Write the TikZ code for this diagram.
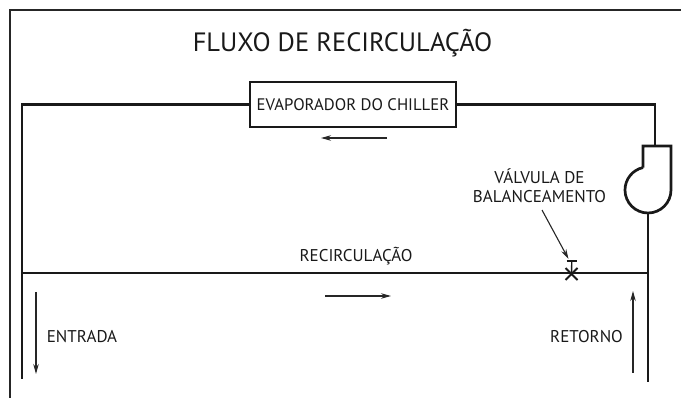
\documentclass[tikz,border=0pt]{standalone}
\usepackage{fontspec}
\setmainfont{PT Sans}
\usetikzlibrary{arrows.meta}
\begin{document}
\begin{tikzpicture}[x=1pt,y=-1pt,
  pipe/.style={line width=2.7pt, line join=miter, draw=black!90},
  frame/.style={line width=2.2pt, draw=black!85},
  flow/.style={line width=1.1pt, draw=black!85, -{Stealth[length=10pt,width=5.5pt]}},
  lbl/.style={font=\fontsize{17}{20}\selectfont, text=black!90, inner sep=0pt},
  titlelbl/.style={font=\fontsize{26.5}{30}\selectfont, text=black!90, inner sep=0pt},
  evapbox/.style={draw=black!90, line width=2.4pt, minimum width=206pt, minimum height=45pt, inner sep=0pt, font=\fontsize{16.7}{20}\selectfont, text=black!90},
]
\useasboundingbox (0,0) rectangle (681,398);
% frame (top and left edges only)
\coordinate (fb) at (10,402);
\coordinate (ftl) at (10,10);
\coordinate (ftr) at (685,10);
\draw[frame] (fb) -- (ftl) -- (ftr);

% title
\node[titlelbl, anchor=base] (title) at (342.5,52) {FLUXO DE RECIRCULAÇÃO};

% evaporator
\node[evapbox] (evap) at (353,104.5) {EVAPORADOR DO CHILLER};

% pipe coordinates
\coordinate (tl) at (22,104.5);
\coordinate (lb) at (22,379);
\coordinate (tr) at (655,104.5);
\coordinate (pin) at (655,146);
\coordinate (ptl) at (643,146);
\coordinate (ptr) at (671,146);
\coordinate (pr) at (671,190);
\coordinate (pl) at (643,167.6);
\coordinate (pout) at (648,213);
\coordinate (rb) at (648,382);
\coordinate (rl) at (22,273);
\coordinate (rr) at (648,273);

\draw[pipe] (evap.west) -- (tl) -- (lb);
\draw[pipe] (evap.east) -- (tr) -- (pin);
% pump
\draw[pipe] (pl) -- (ptl) -- (ptr) -- (pr) arc[start angle=0, end angle=257.4, radius=23];
\draw[pipe] (pout) -- (rb);
% recirculation line
\draw[pipe] (rl) -- (rr);

% balancing valve
\coordinate (vt1) at (566.5,261);
\coordinate (vt2) at (577,261);
\coordinate (vc) at (571.5,274);
\draw[line width=1.6pt, draw=black!90] (vt1) -- (vt2);
\draw[line width=1.4pt, draw=black!90] (571.8,261) -- (vc);
\draw[line width=1.8pt, draw=black!90] (565.5,268) -- (577.5,280) (565.5,280) -- (577.5,268);

% labels
\node[lbl, align=center] (valvelbl) at (539.5,185.5) {VÁLVULA DE\\[-1.5pt]BALANCEAMENTO};
\node[lbl] (recirc) at (356,256) {RECIRCULAÇÃO};
\node[lbl] (entrada) at (82,337) {ENTRADA};
\node[lbl] (retorno) at (586.5,337) {RETORNO};

% flow arrows
\coordinate (a1s) at (387,138); \coordinate (a1e) at (321,138);
\coordinate (a2s) at (325,296); \coordinate (a2e) at (391,296);
\coordinate (a3s) at (36,292);  \coordinate (a3e) at (36,374);
\coordinate (a4s) at (633,373); \coordinate (a4e) at (633,291);
\coordinate (a5s) at (542,210); \coordinate (a5e) at (568.5,259);
\draw[flow] (a1s) -- (a1e);
\draw[flow] (a2s) -- (a2e);
\draw[flow] (a3s) -- (a3e);
\draw[flow] (a4s) -- (a4e);
\draw[flow] (a5s) -- (a5e);
\end{tikzpicture}
\end{document}
